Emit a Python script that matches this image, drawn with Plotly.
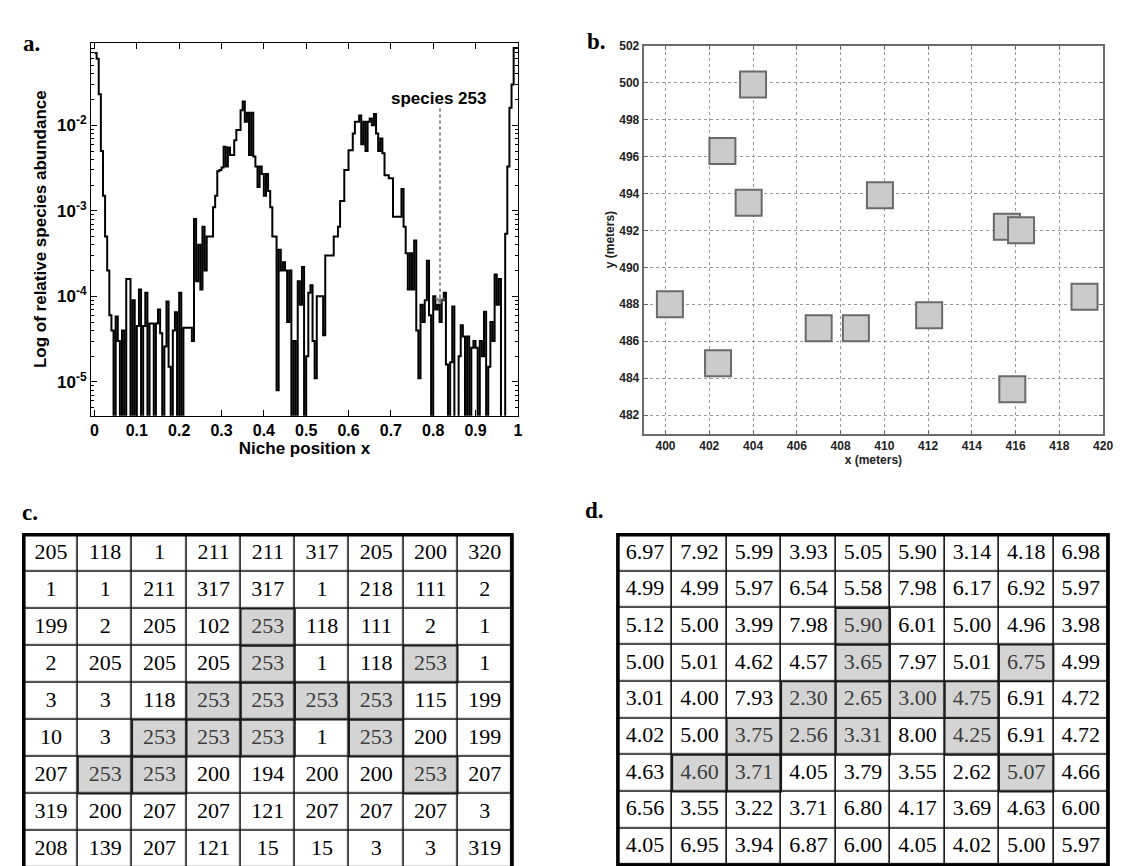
import math
import plotly.graph_objects as go

W, H = 1124, 866

# ---------------- Panel a: relative species abundance vs niche position ----------------
bin_width = 0.005
abundance = [
    7e-2, 6e-2, 2.3e-2, 5e-3, 1.5e-3, 5e-4, 2e-4, 6e-5, 4e-5, 1e-7,
    5.8e-5, 3e-5, 1e-7, 4e-5, 1e-7, 1.6e-4, 1.6e-4, 1e-7, 9e-5, 1e-7,
    4.5e-5, 1.2e-4, 1e-7, 4.5e-5, 1.1e-4, 1e-7, 4.8e-5, 4.8e-5, 1e-7, 4.8e-5,
    7e-5, 3.7e-5, 1e-7, 2.6e-5, 8.7e-5, 1.5e-5, 1e-7, 4e-5, 6.5e-5, 1e-7,
    1.1e-4, 1e-7, 4.3e-5, 4.3e-5, 4.3e-5, 4.3e-5, 3e-5, 8e-4, 1.5e-4, 4e-4,
    1.2e-4, 6.5e-4, 2e-4, 5e-4, 5e-4, 5e-4, 1.1e-3, 1.5e-3, 2.9e-3, 3e-3,
    3.2e-3, 5.6e-3, 3.3e-3, 5.5e-3, 4.5e-3, 4.5e-3, 6.7e-3, 8.8e-3, 8.8e-3, 1.5e-2,
    1.9e-2, 1.1e-2, 1.4e-2, 4.5e-3, 1.4e-2, 4.3e-3, 3.3e-3, 1.9e-3, 3.3e-3, 2.7e-3,
    1.5e-3, 2.7e-3, 1.7e-3, 1.1e-3, 5e-4, 5e-4, 8e-6, 3.5e-4, 2e-4, 2.5e-4,
    2e-4, 5e-5, 2e-4, 1e-7, 3e-5, 1e-7, 1.5e-4, 8e-5, 2.2e-4, 1e-7,
    2e-5, 1.1e-4, 1.35e-4, 3e-5, 1.1e-5, 1e-4, 1e-4, 1e-4, 3.5e-5, 3e-4,
    3e-4, 3e-4, 3e-4, 5e-4, 5e-4, 6.5e-4, 1.3e-3, 1.3e-3, 3e-3, 3e-3,
    5.1e-3, 5.1e-3, 8e-3, 1.1e-2, 1.1e-2, 1.3e-2, 6e-3, 1.1e-2, 5e-3, 1.1e-2,
    1.2e-2, 1.0e-2, 1.35e-2, 8e-3, 5e-3, 7e-3, 4.7e-3, 2.6e-3, 2.6e-3, 2.4e-3,
    2.4e-3, 8.5e-4, 8.5e-4, 8.5e-4, 8.5e-4, 1.8e-3, 6.5e-4, 3.2e-4, 1.2e-4, 3.2e-4,
    1.2e-4, 4.5e-4, 4e-5, 1.1e-5, 8e-5, 5e-5, 9e-5, 2.6e-4, 6e-5, 1e-7,
    1e-4, 7e-5, 8e-5, 5e-5, 9e-5, 1.1e-4, 1.6e-5, 1e-7, 1.7e-5, 7.6e-5,
    1e-7, 1e-7, 2e-5, 4.6e-5, 3.4e-5, 1e-7, 3.4e-5, 1e-7, 2.5e-5, 3e-5,
    2.5e-5, 1e-7, 3e-5, 2e-5, 6.6e-5, 1e-7, 1.5e-5, 5e-5, 3e-5, 1.8e-4,
    8e-5, 1.6e-4, 1e-7, 1e-7, 5.4e-4, 3.3e-3, 1.6e-2, 3e-2, 8e-2, 8e-2,
]
niche_x = [i * bin_width for i in range(len(abundance))] + [1.0]
abundance_steps = abundance + [abundance[-1]]

species_label = "species 253"
species_x = 0.816
species_line_top = 0.0157
species_line_bottom = 9.0e-5
species_text_y = 0.0205

y_tick_vals = [1e-5, 1e-4, 1e-3, 1e-2]
y_tick_text = ["10<sup>-5</sup>", "10<sup>-4</sup>", "10<sup>-3</sup>", "10<sup>-2</sup>"]
x_tick_vals = [0, 0.1, 0.2, 0.3, 0.4, 0.5, 0.6, 0.7, 0.8, 0.9, 1.0]
x_tick_text = ["0", "0.1", "0.2", "0.3", "0.4", "0.5", "0.6", "0.7", "0.8", "0.9", "1"]

# ---------------- Panel b: spatial positions of individuals ----------------
tree_x = [404.0, 402.6, 403.8, 409.8, 400.2, 402.4, 407.0, 408.7, 412.05, 415.6, 416.25, 419.15, 415.85]
tree_y = [499.9, 496.3, 493.5, 493.9, 488.0, 484.8, 486.7, 486.7, 487.4, 492.2, 492.0, 488.4, 483.4]
b_x_ticks = [400, 402, 404, 406, 408, 410, 412, 414, 416, 418, 420]
b_y_ticks = [482, 484, 486, 488, 490, 492, 494, 496, 498, 500, 502]

# ---------------- Panel c and d: grids ----------------
species_grid = [
    [205, 118, 1, 211, 211, 317, 205, 200, 320],
    [1, 1, 211, 317, 317, 1, 218, 111, 2],
    [199, 2, 205, 102, 253, 118, 111, 2, 1],
    [2, 205, 205, 205, 253, 1, 118, 253, 1],
    [3, 3, 118, 253, 253, 253, 253, 115, 199],
    [10, 3, 253, 253, 253, 1, 253, 200, 199],
    [207, 253, 253, 200, 194, 200, 200, 253, 207],
    [319, 200, 207, 207, 121, 207, 207, 207, 3],
    [208, 139, 207, 121, 15, 15, 3, 3, 319],
]
niche_grid = [
    [6.97, 7.92, 5.99, 3.93, 5.05, 5.90, 3.14, 4.18, 6.98],
    [4.99, 4.99, 5.97, 6.54, 5.58, 7.98, 6.17, 6.92, 5.97],
    [5.12, 5.00, 3.99, 7.98, 5.90, 6.01, 5.00, 4.96, 3.98],
    [5.00, 5.01, 4.62, 4.57, 3.65, 7.97, 5.01, 6.75, 4.99],
    [3.01, 4.00, 7.93, 2.30, 2.65, 3.00, 4.75, 6.91, 4.72],
    [4.02, 5.00, 3.75, 2.56, 3.31, 8.00, 4.25, 6.91, 4.72],
    [4.63, 4.60, 3.71, 4.05, 3.79, 3.55, 2.62, 5.07, 4.66],
    [6.56, 3.55, 3.22, 3.71, 6.80, 4.17, 3.69, 4.63, 6.00],
    [4.05, 6.95, 3.94, 6.87, 6.00, 4.05, 4.02, 5.00, 5.97],
]
focal_species = 253


def dom_x(p0, p1):
    return [p0 / W, p1 / W]


def dom_y(p0, p1):
    return [1 - p1 / H, 1 - p0 / H]


fig = go.Figure()

# ---- panel a traces
fig.add_trace(go.Scatter(
    x=niche_x, y=abundance_steps, mode="lines",
    line=dict(shape="hv", color="black", width=2),
    xaxis="x", yaxis="y", hoverinfo="skip",
))
fig.add_trace(go.Scatter(
    x=[species_x, species_x], y=[species_line_top, species_line_bottom],
    mode="lines+markers",
    line=dict(color="#8a8a8a", width=2, dash="dot"),
    marker=dict(symbol="triangle-down", size=[0, 8], color="#555555"),
    xaxis="x", yaxis="y", hoverinfo="skip",
))

# ---- panel b trace
fig.add_trace(go.Scatter(
    x=tree_x, y=tree_y, mode="markers",
    marker=dict(symbol="square", size=26, color="#cbcbcb",
                line=dict(color="#6a6a6a", width=2)),
    xaxis="x2", yaxis="y2", hoverinfo="skip",
))

# ---- panels c and d
shapes = []
table_specs = [
    ("3", [[str(v) for v in row] for row in species_grid], (20, 519, 529, 866), (23, 532, 54.78, 37.3)),
    ("4", [["%.2f" % v for v in row] for row in niche_grid], (620, 1121, 529, 866), (623, 532, 55.0, 37.0)),
]
mask = [[1 if v == focal_species else 0 for v in row] for row in species_grid]
n = len(species_grid)

table_axes = {}
for suffix, labels, (dx0, dx1, dy0, dy1), (cx0, cy0, cw, ch) in table_specs:
    xr = [-0.5 - (cx0 - dx0) / cw, -0.5 + (dx1 - cx0) / cw]
    yr = [-0.5 + (dy1 - cy0) / ch, -0.5 - (cy0 - dy0) / ch]
    table_axes[suffix] = (dom_x(dx0, dx1), dom_y(dy0, dy1), xr, yr)
    xref, yref = "x" + suffix, "y" + suffix
    shapes.append(dict(type="rect", xref=xref, yref=yref, x0=-0.5, x1=n - 0.5, y0=-0.5, y1=n - 0.5,
                       fillcolor="#111111", line=dict(width=0), layer="below"))
    fig.add_trace(go.Heatmap(
        z=mask, x=list(range(n)), y=list(range(n)),
        colorscale=[[0, "white"], [1, "#d4d4d4"]], zmin=0, zmax=1,
        showscale=False, xgap=1.6, ygap=1.6, hoverinfo="skip",
        xaxis=xref, yaxis=yref,
    ))
    tx, ty, tt, tc = [], [], [], []
    for r in range(n):
        for c in range(n):
            tx.append(c)
            ty.append(r)
            tt.append(labels[r][c])
            tc.append("#3c3c3c" if mask[r][c] else "black")
    fig.add_trace(go.Scatter(
        x=tx, y=ty, text=tt, mode="text",
        textfont=dict(family="Liberation Serif, Times New Roman, serif", size=22, color=tc),
        textposition="middle center", hoverinfo="skip",
        xaxis=xref, yaxis=yref,
    ))
    for r in range(n):
        for c in range(n):
            if mask[r][c]:
                shapes.append(dict(type="rect", xref=xref, yref=yref,
                                   x0=c - 0.5, x1=c + 0.5, y0=r - 0.5, y1=r + 0.5,
                                   line=dict(color="#1a1a1a", width=1.6)))
    shapes.append(dict(type="rect", xref=xref, yref=yref, x0=-0.5, x1=n - 0.5, y0=-0.5, y1=n - 0.5,
                       line=dict(color="black", width=3.6)))

sans = "Liberation Sans, Arial, sans-serif"
serif = "Liberation Serif, Times New Roman, serif"

minor_log = [m * 10 ** e for e in range(-6, -1) for m in range(2, 10)]

layout = dict(
    width=W, height=H,
    margin=dict(l=0, r=0, t=0, b=0),
    paper_bgcolor="white", plot_bgcolor="white",
    showlegend=False,
    shapes=shapes,
    xaxis=dict(
        domain=dom_x(91, 522), anchor="y", range=[-0.008, 1.0],
        tickvals=x_tick_vals, ticktext=x_tick_text,
        ticks="inside", ticklen=6, tickcolor="black", tickwidth=1,
        showline=True, linecolor="black", linewidth=1.3, mirror="allticks",
        showgrid=False, zeroline=False,
        tickfont=dict(family=sans, size=16, color="black", weight="bold"),
        title=dict(text="Niche position x", standoff=2,
                   font=dict(family=sans, size=17, color="black", weight="bold")),
    ),
    yaxis=dict(
        domain=dom_y(36, 412), anchor="x", type="log", range=[-5.395, -1.035],
        tickvals=y_tick_vals, ticktext=y_tick_text,
        ticks="inside", ticklen=6, tickcolor="black", tickwidth=1,
        minor=dict(ticks="inside", ticklen=3, tickcolor="black", tickvals=minor_log),
        showline=True, linecolor="black", linewidth=1.3, mirror="allticks",
        showgrid=False, zeroline=False,
        tickfont=dict(family=sans, size=17, color="black", weight="bold"),
        title=dict(text="Log of relative species abundance", standoff=6,
                   font=dict(family=sans, size=17, color="black", weight="bold")),
    ),
    xaxis2=dict(
        domain=dom_x(649, 1113), anchor="y2", range=[399, 420],
        tickvals=b_x_ticks, ticks="inside", ticklen=4, tickcolor="#666666",
        showline=True, linecolor="#6a6a6a", linewidth=2, mirror="allticks",
        showgrid=True, gridcolor="#9a9a9a", griddash="dot", gridwidth=1, zeroline=False,
        tickfont=dict(family=sans, size=12, color="#222222", weight="bold"),
        title=dict(text="x (meters)", standoff=0,
                   font=dict(family=sans, size=12, color="#222222", weight="bold")),
    ),
    yaxis2=dict(
        domain=dom_y(39, 430), anchor="x2", range=[481, 502],
        tickvals=b_y_ticks, ticks="inside", ticklen=4, tickcolor="#666666",
        showline=True, linecolor="#6a6a6a", linewidth=2, mirror="allticks",
        showgrid=True, gridcolor="#9a9a9a", griddash="dot", gridwidth=1, zeroline=False,
        tickfont=dict(family=sans, size=12, color="#222222", weight="bold"),
        title=dict(text="y (meters)", standoff=2,
                   font=dict(family=sans, size=12, color="#222222", weight="bold")),
    ),
    annotations=[
        dict(text="<b>species 253</b>", x=species_x - 0.003, y=math.log10(species_text_y),
             xref="x", yref="y", showarrow=False,
             font=dict(family=sans, size=17, color="black")),
        dict(text="<b>a.</b>", x=20 / W, y=1 - 22 / H, xref="paper", yref="paper",
             showarrow=False, font=dict(family=serif, size=23, color="black")),
        dict(text="<b>b.</b>", x=601 / W, y=1 - 20 / H, xref="paper", yref="paper",
             showarrow=False, font=dict(family=serif, size=23, color="black")),
        dict(text="<b>c.</b>", x=19 / W, y=1 - 510 / H, xref="paper", yref="paper",
             showarrow=False, font=dict(family=serif, size=23, color="black")),
        dict(text="<b>d.</b>", x=599 / W, y=1 - 508 / H, xref="paper", yref="paper",
             showarrow=False, font=dict(family=serif, size=23, color="black")),
    ],
)
for suffix, (xd, yd, xr, yr) in table_axes.items():
    layout["xaxis" + suffix] = dict(domain=xd, anchor="y" + suffix, range=xr, visible=False,
                                    showgrid=False, zeroline=False, fixedrange=True)
    layout["yaxis" + suffix] = dict(domain=yd, anchor="x" + suffix, range=yr, visible=False,
                                    showgrid=False, zeroline=False, fixedrange=True)

fig.update_layout(**layout)
fig.write_html("out.html")
